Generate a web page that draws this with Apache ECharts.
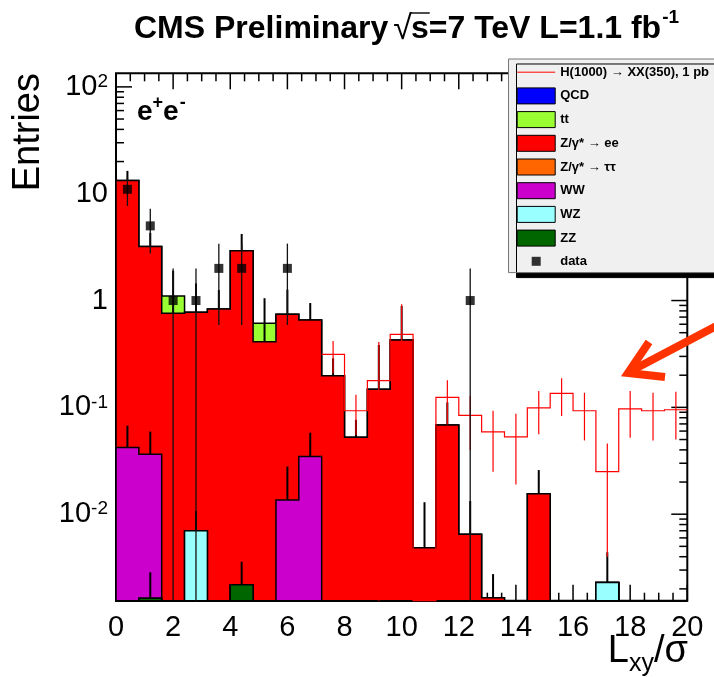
<!DOCTYPE html>
<html>
<head>
<meta charset="utf-8">
<script src="https://cdn.jsdelivr.net/npm/echarts@6/dist/echarts.min.js"></script>
<style>
  html, body { margin: 0; padding: 0; background: #ffffff; }
  #chart { width: 714px; height: 677px; }
</style>
</head>
<body>
<div id="chart"></div>
<script>
// ---- Histogram binning: L_xy / sigma, 25 bins of width 0.8 ----
const binEdges = [0, 0.8, 1.6, 2.4, 3.2, 4.0, 4.8, 5.6, 6.4, 7.2, 8.0, 8.8, 9.6,
                  10.4, 11.2, 12.0, 12.8, 13.6, 14.4, 15.2, 16.0, 16.8, 17.6, 18.4, 19.2, 20.0];

// ---- Expected background per process (entries per bin) ----
const zzValues  = [0, 0.00163, 0, 0, 0, 0.00219, 0, 0, 0, 0, 0, 0, 0, 0, 0, 0, 0, 0, 0, 0, 0, 0, 0, 0, 0];
const wzValues  = [0, 0, 0, 0.0070, 0, 0, 0, 0, 0, 0, 0, 0, 0, 0, 0, 0, 0, 0, 0, 0, 0, 0.0023, 0, 0, 0];
const wwValues  = [0.042, 0.0348, 0, 0, 0, 0, 0, 0.0136, 0.0346, 0, 0, 0, 0, 0, 0, 0, 0, 0, 0, 0, 0, 0, 0, 0, 0];
const zttValues = [0, 0, 0, 0, 0, 0, 0, 0, 0, 0, 0, 0, 0, 0, 0, 0, 0, 0, 0, 0, 0, 0, 0, 0, 0];
const zeeValues = [13.26, 3.163, 0.76, 0.770, 0.834, 2.928, 0.412, 0.730, 0.623, 0.198, 0.0525, 0.148, 0.428,
                   0.00485, 0.0684, 0.00648, 0.00165, 0, 0.0155, 0, 0, 0, 0, 0, 0];
const ttValues  = [0, 0, 0.34, 0, 0, 0, 0.201, 0, 0, 0, 0, 0, 0, 0, 0, 0, 0, 0, 0, 0, 0, 0, 0, 0, 0];
const qcdValues = [0, 0, 0, 0, 0, 0, 0, 0, 0, 0, 0, 0, 0, 0, 0, 0, 0, 0, 0, 0, 0, 0, 0, 0, 0];

// ---- MC statistical uncertainty (drawn upward from each stacked layer) ----
const zzErrors  = [0, 0.00123, 0, 0, 0, 0.0014, 0, 0, 0, 0, 0, 0, 0, 0, 0, 0, 0, 0, 0, 0, 0, 0, 0, 0, 0];
const wzErrors  = [0, 0, 0, 0.0037, 0, 0, 0, 0, 0, 0, 0, 0, 0, 0, 0, 0, 0, 0, 0, 0, 0, 0.0021, 0, 0, 0];
const wwErrors  = [0.0254, 0.0229, 0, 0, 0, 0, 0, 0.0143, 0.0234, 0, 0, 0, 0, 0, 0, 0, 0, 0, 0, 0, 0, 0, 0, 0, 0];
const zttErrors = [0, 0, 0, 0, 0, 0, 0, 0, 0, 0, 0, 0, 0, 0, 0, 0, 0, 0, 0, 0, 0, 0, 0, 0, 0];
const zeeErrors = [3.05, 1.1, 1.14, 0.67, 0.42, 1.27, 0.64, 0.52, 0.29, 0.09, 0.024, 0.236, 0.46,
                   0.0081, 0.043, 0.0068, 0.0011, 0, 0.0104, 0, 0, 0, 0, 0, 0];
const ttErrors  = [0, 0, 0, 0, 0, 0, 0, 0, 0, 0, 0, 0, 0, 0, 0, 0, 0, 0, 0, 0, 0, 0, 0, 0, 0];
const qcdErrors = [0, 0, 0, 0, 0, 0, 0, 0, 0, 0, 0, 0, 0, 0, 0, 0, 0, 0, 0, 0, 0, 0, 0, 0, 0];

// ---- Signal H(1000) -> XX(350), 1 pb ----
const signalValues = [null, null, null, null, null, null, null, null, null,
                      0.314, 0.093, 0.178, 0.483, 0, 0.124, 0.084, 0.059, 0.053, 0.099, 0.135, 0.093, 0.025, 0.097, 0.093, 0.095];
const signalErrors = [null, null, null, null, null, null, null, null, null,
                      0.105, 0.038, 0.232, 0.44, 0, 0.055, 0.044, 0.034, 0.034, 0.043, 0.052, 0.044, 0.021, 0.045, 0.044, 0.045];

// ---- Observed events ----
const dataCounts = [11, 5, 1, 1, 2, 2, 0, 2, 0, 0, 0, 0, 0, 0, 0, 1, 0, 0, 0, 0, 0, 0, 0, 0, 0];
const dataErrors = [3.32, 2.24, 1, 1, 1.41, 1.41, 0, 1.41, 0, 0, 0, 0, 0, 0, 0, 1, 0, 0, 0, 0, 0, 0, 0, 0, 0];

// ---- Axis ticks ----
const xMajorTicks = [0, 2, 4, 6, 8, 10, 12, 14, 16, 18, 20];
const xMinorStep = 0.5;
const yDecades = [0.01, 0.1, 1, 10, 100];
const yMinorMultipliers = [2, 3, 4, 5, 6, 7, 8, 9];

const Y_MIN = 0.00155;
const Y_MAX = 134;

const FONT = '"Liberation Sans", Arial, Helvetica, sans-serif';
const SIGNAL_NAME = 'H(1000) \u2192 XX(350), 1 pb';

// Stack, listed bottom -> top
const stackLayers = [
  { name: 'ZZ',               color: '#006600', values: zzValues,  errors: zzErrors },
  { name: 'WZ',               color: '#99ffff', values: wzValues,  errors: wzErrors },
  { name: 'WW',               color: '#cc00cc', values: wwValues,  errors: wwErrors },
  { name: 'Z/\u03b3* \u2192 \u03c4\u03c4', color: '#ff6600', values: zttValues, errors: zttErrors },
  { name: 'Z/\u03b3* \u2192 ee', color: '#ff0000', values: zeeValues, errors: zeeErrors },
  { name: 'tt',               color: '#99ff33', values: ttValues,  errors: ttErrors },
  { name: 'QCD',              color: '#0000ff', values: qcdValues, errors: qcdErrors }
];

// cumulative sums for the stack
let running = binEdges.slice(0, -1).map(() => 0);
stackLayers.forEach(layer => {
  running = running.map((s, i) => s + layer.values[i]);
  layer.cumulative = running.slice();
});

const clampY = v => Math.min(Math.max(v, Y_MIN), Y_MAX);
const binCenter = i => (binEdges[i] + binEdges[i + 1]) / 2;

// Filled step histogram for one stacked layer, outlined in black
function stackFillSeries(layer) {
  const hasContent = layer.values.some(v => v > 0);
  return {
    type: 'custom',
    name: layer.name,
    silent: true,
    data: [[0, 1]],
    encode: { x: 0, y: 1 },
    renderItem: (params, api) => {
      if (!hasContent) return null;
      const pts = [];
      pts.push(api.coord([binEdges[0], Y_MIN]));
      layer.cumulative.forEach((v, i) => {
        const yv = v > 0 ? clampY(v) : Y_MIN;
        pts.push(api.coord([binEdges[i], yv]));
        pts.push(api.coord([binEdges[i + 1], yv]));
      });
      pts.push(api.coord([binEdges[binEdges.length - 1], Y_MIN]));
      return {
        type: 'polygon',
        shape: { points: pts },
        style: { fill: layer.color, stroke: '#000000', lineWidth: 1.5, lineJoin: 'miter' }
      };
    }
  };
}

// Vertical segment items: [x, low, high]
function segmentSeries(items, color, width) {
  return {
    type: 'custom',
    silent: true,
    data: items,
    encode: { x: 0, y: [1, 2] },
    renderItem: (params, api) => {
      const x = api.value(0);
      const p0 = api.coord([x, api.value(1)]);
      const p1 = api.coord([x, api.value(2)]);
      return {
        type: 'line',
        shape: { x1: p0[0], y1: p0[1], x2: p1[0], y2: p1[1] },
        style: { stroke: color, lineWidth: width }
      };
    }
  };
}

// MC uncertainty segments above each layer
const mcErrorItems = [];
stackLayers.forEach(layer => {
  layer.errors.forEach((e, i) => {
    if (e > 0) {
      const top = layer.cumulative[i];
      mcErrorItems.push([binCenter(i), clampY(top), clampY(top + e)]);
    }
  });
});

const signalErrorItems = [];
signalValues.forEach((v, i) => {
  const e = signalErrors[i];
  if (v !== null && e > 0) signalErrorItems.push([binCenter(i), clampY(v - e), clampY(v + e)]);
});

const dataErrorItems = [];
const dataPoints = [];
dataCounts.forEach((n, i) => {
  if (n > 0) {
    dataPoints.push([binCenter(i), n]);
    dataErrorItems.push([binCenter(i), clampY(n - dataErrors[i]), clampY(n + dataErrors[i])]);
  }
});

// Tick items: [x, y, kind(0=x,1=y), length]
const tickItems = [];
for (let k = 0; k * xMinorStep <= 20 + 1e-9; k++) {
  const x = k * xMinorStep;
  const major = xMajorTicks.some(t => Math.abs(t - x) < 1e-9);
  tickItems.push([x, 1, 0, major ? 16 : 8]);
}
yDecades.forEach(d => {
  tickItems.push([0, d, 1, 16]);
  yMinorMultipliers.forEach(m => {
    const v = m * d;
    if (v < Y_MAX) tickItems.push([0, v, 1, 8]);
  });
});
yMinorMultipliers.forEach(m => {
  const v = m * 0.001;
  if (v > Y_MIN) tickItems.push([0, v, 1, 8]);
});

const tickSeries = {
  type: 'custom',
  silent: true,
  data: tickItems,
  encode: { x: 0, y: 1 },
  renderItem: (params, api) => {
    const cs = params.coordSys;
    const kind = api.value(2), len = api.value(3);
    const st = { stroke: '#000000', lineWidth: 1.5 };
    if (kind === 0) {
      const x = api.coord([api.value(0), 1])[0];
      const yb = cs.y + cs.height, yt = cs.y;
      return { type: 'group', children: [
        { type: 'line', shape: { x1: x, y1: yb, x2: x, y2: yb - len }, style: st },
        { type: 'line', shape: { x1: x, y1: yt, x2: x, y2: yt + len }, style: st }
      ] };
    }
    const y = api.coord([0, api.value(1)])[1];
    const xl = cs.x, xr = cs.x + cs.width;
    return { type: 'group', children: [
      { type: 'line', shape: { x1: xl, y1: y, x2: xl + len, y2: y }, style: st },
      { type: 'line', shape: { x1: xr, y1: y, x2: xr - len, y2: y }, style: st }
    ] };
  }
};

// Signal drawn as an open step line
const signalLineSeries = {
  type: 'custom',
  name: SIGNAL_NAME,
  silent: true,
  data: [[0, 1]],
  encode: { x: 0, y: 1 },
  renderItem: (params, api) => {
    const pts = [];
    signalValues.forEach((v, i) => {
      if (v === null) return;
      const yv = v > 0 ? clampY(v) : Y_MIN;
      pts.push(api.coord([binEdges[i], yv]));
      pts.push(api.coord([binEdges[i + 1], yv]));
    });
    return {
      type: 'polyline',
      shape: { points: pts },
      style: { stroke: '#ff0000', lineWidth: 1.2, fill: null }
    };
  }
};

// ---- text helpers ----
const measureCtx = document.createElement('canvas').getContext('2d');
function textWidth(str, font) { measureCtx.font = font; return measureCtx.measureText(str).width; }

const titleFont = 'bold 32px ' + FONT;
const sqrtFont = '34px ' + FONT;
const supFont = 'bold 19px ' + FONT;
const titleLeft = 134;
const titleY = 29;
const titlePart1 = 'CMS Preliminary';
const titlePart2 = 's=7 TeV L=1.1 fb';
const sqrtX = titleLeft + textWidth(titlePart1, titleFont) + 5;
const sqrtW = textWidth('\u221a', sqrtFont);
const sX = sqrtX + sqrtW - 1;
const sW = textWidth('s', titleFont);
const supX = sX + textWidth(titlePart2, titleFont) + 1;

const axisTitleFont = '38px ' + FONT;
const subFont = '25px ' + FONT;
const wL = textWidth('L', axisTitleFont);
const wXY = textWidth('xy', subFont);
const wRest = textWidth('/\u03c3', axisTitleFont);
const xTitleRight = 688;
const xTitleLeft = xTitleRight - (wL + wXY + wRest);

const eFont = 'bold 28px ' + FONT;
const eSupFont = 'bold 18px ' + FONT;
const eW = textWidth('e', eFont);
const plusW = textWidth('+', eSupFont);

const graphics = [
  { type: 'text', x: titleLeft, y: titleY, style: { text: titlePart1, font: titleFont, fill: '#000', textAlign: 'left', textVerticalAlign: 'middle' } },
  { type: 'text', x: sqrtX, y: titleY + 1, style: { text: '\u221a', font: sqrtFont, fill: '#000', textAlign: 'left', textVerticalAlign: 'middle' } },
  { type: 'line', shape: { x1: sqrtX + sqrtW - 1.5, y1: 13, x2: sX + sW + 1, y2: 13 }, style: { stroke: '#000', lineWidth: 1.4 } },
  { type: 'text', x: sX, y: titleY, style: { text: titlePart2, font: titleFont, fill: '#000', textAlign: 'left', textVerticalAlign: 'middle' } },
  { type: 'text', x: supX, y: 18, style: { text: '-1', font: supFont, fill: '#000', textAlign: 'left', textVerticalAlign: 'middle' } },

  { type: 'text', x: 29, y: 73, rotation: Math.PI / 2, style: { text: 'Entries', font: axisTitleFont, fill: '#000', textAlign: 'right', textVerticalAlign: 'middle' } },

  { type: 'text', x: xTitleLeft, y: 652, style: { text: 'L', font: axisTitleFont, fill: '#000', textAlign: 'left', textVerticalAlign: 'middle' } },
  { type: 'text', x: xTitleLeft + wL, y: 664, style: { text: 'xy', font: subFont, fill: '#000', textAlign: 'left', textVerticalAlign: 'middle' } },
  { type: 'text', x: xTitleLeft + wL + wXY, y: 652, style: { text: '/\u03c3', font: axisTitleFont, fill: '#000', textAlign: 'left', textVerticalAlign: 'middle' } },

  { type: 'text', x: 137, y: 112, style: { text: 'e', font: eFont, fill: '#000', textAlign: 'left', textVerticalAlign: 'middle' } },
  { type: 'text', x: 137 + eW, y: 103, style: { text: '+', font: eSupFont, fill: '#000', textAlign: 'left', textVerticalAlign: 'middle' } },
  { type: 'text', x: 137 + eW + plusW, y: 112, style: { text: 'e', font: eFont, fill: '#000', textAlign: 'left', textVerticalAlign: 'middle' } },
  { type: 'text', x: 137 + 2 * eW + plusW + 1, y: 103, style: { text: '-', font: eSupFont, fill: '#000', textAlign: 'left', textVerticalAlign: 'middle' } },

  // annotation arrow pointing at the signal
  { type: 'polyline', z: 100, shape: { points: [[722, 323], [629, 372]] }, style: { stroke: '#ff3300', lineWidth: 8, fill: null, lineCap: 'butt' } },
  { type: 'polyline', z: 100, shape: { points: [[649, 342], [628, 373], [665, 377]] }, style: { stroke: '#ff3300', lineWidth: 8, fill: null, lineJoin: 'miter', lineCap: 'butt' } }
];

function yLabel(v) {
  const lg = Math.log10(v);
  const e = Math.round(lg);
  if (Math.abs(lg - e) > 1e-6) return '';
  if (e === 0) return '{n|1}';
  if (e === 1) return '{n|10}';
  return '{n|10}{s|' + e + '}';
}

const option = {
  animation: false,
  backgroundColor: '#ffffff',
  grid: {
    left: 116, right: 26.7, top: 73.3, bottom: 76.3,
    show: true, borderColor: '#000000', borderWidth: 2, backgroundColor: 'transparent',
    containLabel: false, outerBoundsMode: 'none'
  },
  xAxis: {
    type: 'value', min: 0, max: 20, interval: 2,
    axisLine: { show: false }, axisTick: { show: false }, splitLine: { show: false },
    axisLabel: { fontFamily: FONT, fontSize: 29, color: '#000', margin: 13 }
  },
  yAxis: {
    type: 'log', logBase: 10, min: Y_MIN, max: Y_MAX,
    axisLine: { show: false }, axisTick: { show: false }, splitLine: { show: false },
    axisLabel: {
      margin: 8,
      formatter: yLabel,
      rich: {
        n: { fontFamily: FONT, fontSize: 29, color: '#000', verticalAlign: 'middle' },
        s: { fontFamily: FONT, fontSize: 19, color: '#000', verticalAlign: 'top' }
      }
    }
  },
  legend: {
    orient: 'vertical', left: 508.5, top: 59, z: 10,
    itemWidth: 38, itemHeight: 16, itemGap: 6.7,
    padding: [4.7, 30, 3.3, 8.2],
    backgroundColor: '#f0f0f0', borderColor: '#777777', borderWidth: 1, borderRadius: 0,
    shadowColor: '#000000', shadowBlur: 0, shadowOffsetX: 8, shadowOffsetY: 5,
    selectedMode: false,
    textStyle: { fontFamily: FONT, fontWeight: 'bold', fontSize: 13, color: '#000' },
    data: [
      { name: SIGNAL_NAME, icon: 'path://M0,8 L38,8 M0,0 M38,16', itemStyle: { color: 'transparent', borderColor: '#ff0000', borderWidth: 1 } },
      { name: 'QCD', icon: 'rect', itemStyle: { color: '#0000ff', borderColor: '#000', borderWidth: 1 } },
      { name: 'tt', icon: 'rect', itemStyle: { color: '#99ff33', borderColor: '#000', borderWidth: 1 } },
      { name: 'Z/\u03b3* \u2192 ee', icon: 'rect', itemStyle: { color: '#ff0000', borderColor: '#000', borderWidth: 1 } },
      { name: 'Z/\u03b3* \u2192 \u03c4\u03c4', icon: 'rect', itemStyle: { color: '#ff6600', borderColor: '#000', borderWidth: 1 } },
      { name: 'WW', icon: 'rect', itemStyle: { color: '#cc00cc', borderColor: '#000', borderWidth: 1 } },
      { name: 'WZ', icon: 'rect', itemStyle: { color: '#99ffff', borderColor: '#000', borderWidth: 1 } },
      { name: 'ZZ', icon: 'rect', itemStyle: { color: '#006600', borderColor: '#000', borderWidth: 1 } },
      { name: 'data', icon: 'path://M0,0 M38,16 M14.5,3.5 L23.5,3.5 L23.5,12.5 L14.5,12.5 Z', itemStyle: { color: '#000', borderWidth: 0 } }
    ]
  },
  graphic: graphics,
  series: [
    tickSeries,
    ...stackLayers.slice().reverse().map(stackFillSeries),
    segmentSeries(mcErrorItems, '#000000', 2),
    signalLineSeries,
    segmentSeries(signalErrorItems, '#ff0000', 1.2),
    segmentSeries(dataErrorItems, '#111111', 1.3),
    {
      type: 'scatter', name: 'data', silent: true,
      symbol: 'rect', symbolSize: 9,
      itemStyle: { color: '#000000' },
      data: dataPoints
    }
  ]
};

const chart = echarts.init(document.getElementById('chart'), null, { renderer: 'canvas', width: 714, height: 677 });
chart.setOption(option);
</script>
</body>
</html>
